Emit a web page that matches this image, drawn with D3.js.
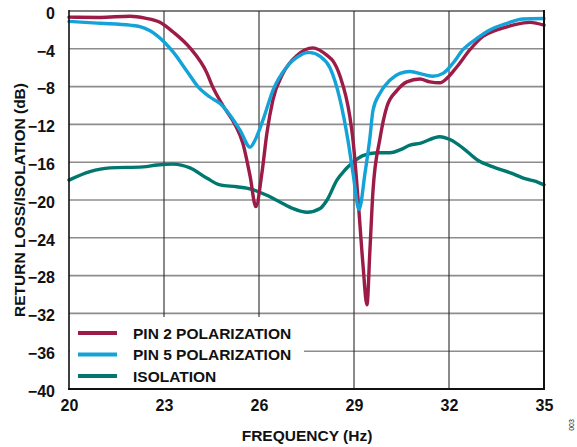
<!DOCTYPE html>
<html>
<head>
<meta charset="utf-8">
<script src="https://cdn.jsdelivr.net/npm/d3@7/dist/d3.min.js"></script>
<style>
  html, body { margin: 0; padding: 0; background: #fff; }
  svg { display: block; }
  text { font-family: "Liberation Sans", Arial, Helvetica, sans-serif; font-weight: bold; fill: #111; }
</style>
</head>
<body>
<svg id="chart" width="577" height="447"></svg>
<script>
// ---- data ----
const seriesNames = ["PIN 2 POLARIZATION", "PIN 5 POLARIZATION", "ISOLATION"];

const pin2Freq = [20.00, 20.98, 21.93, 22.40, 22.87, 23.28, 23.82, 24.36, 24.52, 24.86, 25.24, 25.49, 25.72, 25.90,
  26.09, 26.25, 26.44, 26.76, 27.20, 27.70, 28.15, 28.34, 28.56, 28.87, 28.97, 29.13, 29.28, 29.41, 29.50, 29.60,
  29.82, 30.04, 30.36, 30.67, 31.08, 31.40, 31.71, 31.94, 32.25, 32.66, 33.07, 33.51, 34.02, 34.56, 35.00];
const pin2Loss = [-0.65, -0.68, -0.55, -0.75, -1.2, -2.2, -3.9, -6.6, -7.9, -10.0, -12.0, -14.0, -17.5, -20.7,
  -17.2, -12.9, -9.4, -6.6, -4.7, -3.9, -4.7, -5.3, -6.9, -11.2, -13.7, -20.0, -26.7, -31.1, -25.5, -19.0,
  -13.5, -10.1, -8.4, -7.5, -7.2, -7.5, -7.6, -7.1, -5.9, -4.1, -2.7, -2.0, -1.5, -1.2, -1.5];

const pin5Freq = [20.00, 20.98, 21.93, 22.24, 22.56, 22.78, 23.28, 23.73, 24.07, 24.45, 24.77, 25.08, 25.40, 25.72,
  25.87, 26.13, 26.44, 26.88, 27.29, 27.52, 27.61, 27.93, 28.24, 28.56, 28.81, 28.97, 29.16, 29.35, 29.50, 29.60,
  29.82, 30.14, 30.45, 30.77, 31.18, 31.49, 31.81, 32.13, 32.44, 32.88, 33.29, 33.83, 34.34, 35.00];
const pin5Loss = [-1.1, -1.3, -1.5, -1.65, -2.1, -2.6, -4.3, -6.4, -8.0, -9.1, -9.8, -11.0, -12.6, -14.4,
  -13.7, -11.5, -8.4, -5.9, -4.7, -4.4, -4.4, -4.8, -6.0, -9.4, -13.7, -17.2, -21.0, -17.1, -13.5, -10.5,
  -8.7, -7.3, -6.6, -6.4, -6.7, -6.9, -6.6, -5.5, -4.1, -2.9, -2.0, -1.3, -0.85, -0.8];

const isoFreq = [20.00, 20.66, 21.29, 22.34, 22.78, 23.28, 23.82, 24.36, 24.77, 25.30, 25.81, 26.25, 26.66, 27.07,
  27.52, 27.93, 28.15, 28.46, 28.72, 28.97, 29.28, 29.73, 30.14, 30.45, 30.77, 31.08, 31.71, 32.03, 32.44, 32.91,
  33.39, 33.92, 34.46, 34.71, 35.00];
const isoLoss = [-17.9, -17.0, -16.6, -16.5, -16.3, -16.2, -16.6, -17.7, -18.4, -18.6, -18.9, -19.5, -20.2, -20.9,
  -21.3, -20.9, -20.0, -17.9, -16.8, -16.0, -15.3, -15.0, -15.0, -14.7, -14.2, -14.0, -13.3, -13.6, -14.5, -15.8,
  -16.5, -17.1, -17.8, -18.0, -18.4];

const xTicks = [20, 23, 26, 29, 32, 35];
const xTickLabels = ["20", "23", "26", "29", "32", "35"];
const yTicks = [0, -4, -8, -12, -16, -20, -24, -28, -32, -36, -40];
const yTickLabels = ["0", "\u22124", "\u22128", "\u221212", "\u221216", "\u221220", "\u221224", "\u221228", "\u221232", "\u221236", "\u221240"];

const colors = ["#9c1c47", "#14a3d8", "#00786f"];

// ---- layout ----
const svg = d3.select("#chart");
const L = 69, R = 544, T = 11, B = 389;

const x = d3.scaleLinear().domain([20, 35]).range([L, R]);
const y = d3.scaleLinear().domain([-40, 0]).range([B, T]);

// horizontal grid
svg.append("g").selectAll("line").data(yTicks.filter(v => v !== -40)).join("line")
  .attr("x1", L).attr("x2", R)
  .attr("y1", d => y(d)).attr("y2", d => y(d))
  .attr("stroke", d => d === 0 ? "#555" : "#8c8c8c")
  .attr("stroke-width", 1.6);

// vertical grid
svg.append("g").selectAll("line").data(xTicks.slice(1, -1)).join("line")
  .attr("x1", d => x(d)).attr("x2", d => x(d))
  .attr("y1", T).attr("y2", B)
  .attr("stroke", "#2a2a2a")
  .attr("stroke-width", 1.1);

// curves
const line = d3.line().x(d => x(d[0])).y(d => y(d[1])).curve(d3.curveMonotoneX);
const series = [
  d3.zip(pin2Freq, pin2Loss),
  d3.zip(pin5Freq, pin5Loss),
  d3.zip(isoFreq, isoLoss)
];
[2, 0, 1].forEach(i => {
  svg.append("path").datum(series[i])
    .attr("d", line)
    .attr("fill", "none")
    .attr("stroke", colors[i])
    .attr("stroke-width", 3.4)
    .attr("stroke-linejoin", "round")
    .attr("stroke-linecap", "round");
});

// legend box
svg.append("rect")
  .attr("x", L + 1).attr("y", 317)
  .attr("width", 303 - L).attr("height", B - 317)
  .attr("fill", "#fff");

const legend = svg.append("g");
seriesNames.forEach((name, i) => {
  const cy = 333 + i * 21.5;
  legend.append("line")
    .attr("x1", 78).attr("x2", 117).attr("y1", cy).attr("y2", cy)
    .attr("stroke", colors[i]).attr("stroke-width", 4);
  legend.append("text")
    .attr("x", 133).attr("y", cy).attr("dy", "0.36em")
    .style("font-size", "15.5px")
    .text(name);
});

// frame
svg.append("line").attr("x1", L).attr("x2", L).attr("y1", T - 1).attr("y2", B + 1)
  .attr("stroke", "#111").attr("stroke-width", 1.6);
svg.append("line").attr("x1", R).attr("x2", R).attr("y1", T - 1).attr("y2", B + 1)
  .attr("stroke", "#111").attr("stroke-width", 2);
svg.append("line").attr("x1", L - 1).attr("x2", R + 1).attr("y1", B).attr("y2", B)
  .attr("stroke", "#111").attr("stroke-width", 2.2);

// axes (tick labels)
const yAxis = d3.axisLeft(y).tickValues(yTicks).tickSize(0).tickPadding(14)
  .tickFormat((d, i) => yTickLabels[i]);
const gy = svg.append("g").attr("transform", `translate(${L},0)`).call(yAxis);
gy.select(".domain").remove();
gy.selectAll("text").style("font-size", "16px").attr("dy", "0.45em")
  .style("font-family", "'Liberation Sans', Arial, sans-serif").style("font-weight", "bold").attr("fill", "#111");

const xAxis = d3.axisBottom(x).tickValues(xTicks).tickSize(0).tickPadding(11)
  .tickFormat((d, i) => xTickLabels[i]);
const gx = svg.append("g").attr("transform", `translate(0,${B})`).call(xAxis);
gx.select(".domain").remove();
gx.selectAll("text").style("font-size", "16px")
  .style("font-family", "'Liberation Sans', Arial, sans-serif").style("font-weight", "bold").attr("fill", "#111");

// axis titles
svg.append("text")
  .attr("x", 307).attr("y", 441)
  .attr("text-anchor", "middle")
  .style("font-size", "15.5px")
  .text("FREQUENCY (Hz)");

svg.append("text")
  .attr("transform", "translate(25,200) rotate(-90)")
  .attr("text-anchor", "middle")
  .style("font-size", "15.5px")
  .text("RETURN LOSS/ISOLATION (dB)");

// figure id
svg.append("text")
  .attr("transform", "translate(574,425) rotate(-90)")
  .attr("text-anchor", "middle")
  .style("font-size", "7px")
  .style("font-weight", "normal")
  .attr("fill", "#444")
  .text("003");
</script>
</body>
</html>
